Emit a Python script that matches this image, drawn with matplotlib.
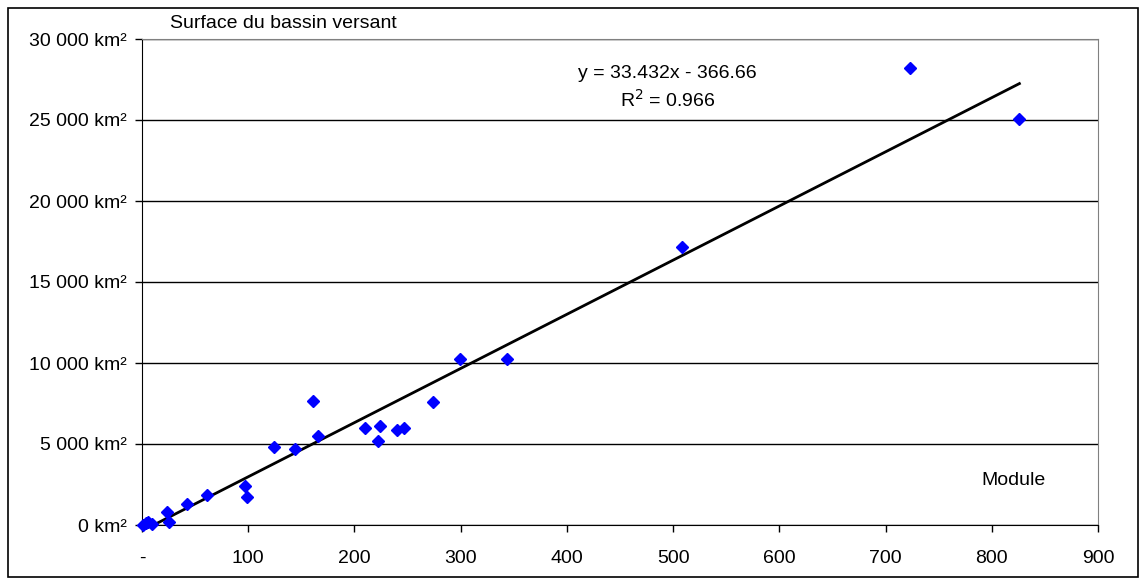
import matplotlib as mpl
mpl.use('Agg')
from matplotlib import pyplot as plt
from matplotlib.ticker import FuncFormatter
from matplotlib.patches import Rectangle
import numpy as np

plt.rcParams['font.family'] = ['Liberation Sans', 'DejaVu Sans']

# module (m3/s) vs surface du bassin versant (km2)
module = [1, 4, 6, 9, 24, 25, 42.5, 61.5, 96.5, 99, 124, 144, 161, 165.5,
          210, 222, 224.5, 240.5, 246.5, 274, 299, 344, 508.7, 723.3, 826]
surface = [30, 120, 180, 60, 790, 200, 1280, 1830, 2410, 1730, 4800, 4710, 7670, 5510,
           5970, 5200, 6130, 5860, 5970, 7590, 10250, 10250, 17180, 28190, 25040]

slope = 33.432
intercept = -366.66
r2 = 0.966

fs = 14

fig = plt.figure(figsize=(11.46, 5.85), dpi=100)
ax = fig.add_axes([142/1146, 60/585, 956/1146, 486/585])

ax.set_xlim(0, 900)
ax.set_ylim(0, 30000)
ax.set_xticks(range(0, 901, 100))
ax.set_yticks(range(0, 30001, 5000))
ax.xaxis.set_major_formatter(FuncFormatter(lambda v, p: '-' if v == 0 else f'{int(v)}'))
ax.yaxis.set_major_formatter(FuncFormatter(lambda v, p: f'{int(v):,} km²'.replace(',', ' ')))
ax.tick_params(direction='out', length=5, width=1, labelsize=fs, pad=6, color='black')
ax.tick_params(axis='x', pad=13)

ax.grid(axis='y', color='black', linewidth=1)
ax.set_axisbelow(True)
for s in ['top', 'right']:
    ax.spines[s].set_color('#808080')
for s in ['left', 'bottom']:
    ax.spines[s].set_color('black')

# trend line
xs = np.array([0, max(module)])
ax.plot(xs, slope * xs + intercept, color='black', linewidth=2, zorder=3)

ax.plot(module, surface, linestyle='none', marker='D', markersize=6.5,
        color='#0000FF', zorder=4, clip_on=False)

ax.text(495, 27900, f'y = {slope}x - {abs(intercept)}', ha='center', va='center', fontsize=fs)
ax.text(495, 26250, f'R$^2$ = {r2}', ha='center', va='center', fontsize=fs)

ax.text(0.912, 0.092, 'Module', transform=ax.transAxes, ha='center', va='center', fontsize=fs)
fig.text(170/1146, 1 - 23/585, 'Surface du bassin versant', ha='left', va='center', fontsize=fs)

fig.patches.append(Rectangle((8/1146, 8/585), 1130/1146, 569/585, transform=fig.transFigure,
                             fill=False, edgecolor='black', linewidth=1.2))

fig.savefig('out.png', dpi=100)
